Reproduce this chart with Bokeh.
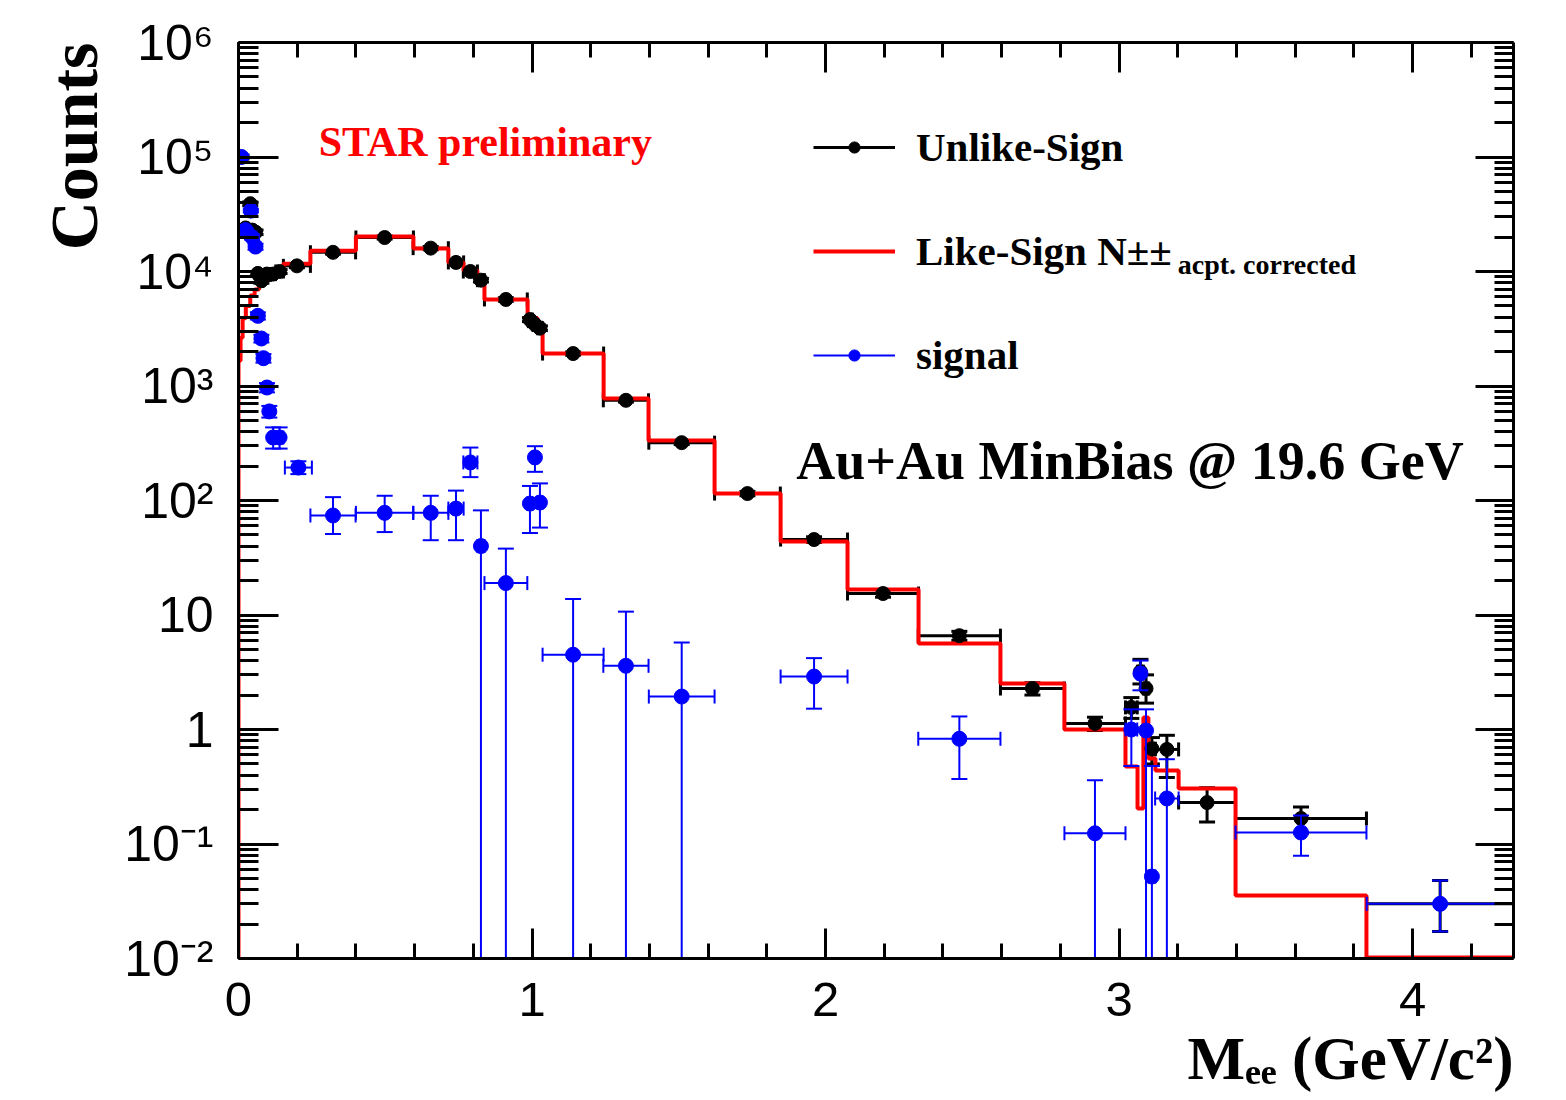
import numpy as np
from bokeh.plotting import figure
from bokeh.models import (Range1d, FixedTicker, LinearAxis, LogAxis, Label, Legend,
                          LegendItem, CustomJSTickFormatter, Title)
from bokeh.embed import file_html
from bokeh.resources import INLINE

# ---------------- data ----------------
# Like-sign (acceptance corrected) histogram: bin edges [GeV/c^2] and counts
ls_edges = [0.0, 0.007, 0.014, 0.025, 0.04, 0.055, 0.07, 0.085, 0.10, 0.12, 0.137, 0.153,
            0.245, 0.40, 0.596, 0.715, 0.767, 0.814, 0.838, 0.985, 1.019, 1.036, 1.244,
            1.397, 1.622, 1.847, 2.075, 2.317, 2.596, 2.814, 3.022, 3.063, 3.083, 3.100,
            3.124, 3.203, 3.397, 3.843, 4.344]
ls_counts = [1660, 2640, 3900, 5000, 6160, 6950, 7550, 8180, 8870, 9420, 1.0e4, 1.17e4,
             1.52e4, 2.02e4, 1.59e4, 1.2e4, 1.02e4, 8.7e3, 5.7e3, 3.9e3, 3.24e3, 1.92e3,
             778, 334, 115, 43.9, 16.7, 5.64, 2.52, 1.0, 0.475, 0.204, 1.27, 0.558, 0.438,
             0.305, 0.0355, 0.0102]

# Unlike-sign points
us_mass = [0.010, 0.024, 0.040, 0.047, 0.058, 0.066, 0.078, 0.085, 0.097, 0.105,
           0.118, 0.140, 0.199, 0.322, 0.498, 0.655, 0.741, 0.790, 0.826, 0.911,
           0.993, 1.010, 1.027, 1.140, 1.320, 1.510, 1.734, 1.961, 2.196, 2.456,
           2.705, 2.918, 3.042, 3.073, 3.092, 3.112, 3.163, 3.300, 3.620, 4.094]
us_halfwidth = [0.005, 0.004, 0.004, 0.004, 0.005, 0.004, 0.005, 0.004, 0.005, 0.004,
                0.008, 0.013, 0.046, 0.077, 0.098, 0.060, 0.026, 0.024, 0.012, 0.073,
                0.0085, 0.0085, 0.0085, 0.104, 0.077, 0.112, 0.112, 0.114, 0.121, 0.140,
                0.109, 0.104, 0.020, 0.010, 0.009, 0.012, 0.040, 0.097, 0.223, 0.250]
us_counts = [1.0e5, 2.4e4, 3.9e4, 2.3e4, 2.2e4, 9.6e3, 8.3e3, 9.0e3, 9.5e3, 9.4e3,
             9.5e3, 1.0e4, 1.12e4, 1.47e4, 1.98e4, 1.6e4, 1.2e4, 1.0e4, 8.4e3, 5.7e3,
             3.8e3, 3.45e3, 3.2e3, 1.92e3, 750, 320, 115, 45.6, 15.4, 6.6,
             2.28, 1.13, 1.56, 3.2, 2.28, 0.68, 0.67, 0.23, 0.167, 0.030]
us_err_low = [9.6e4, 2.3e4, 3.75e4, 2.2e4, 2.1e4, 9.2e3, 7.9e3, 8.6e3, 9.1e3, 9.0e3,
              9.1e3, 9.6e3, 1.08e4, 1.42e4, 1.92e4, 1.55e4, 1.16e4, 9.7e3, 8.1e3, 5.5e3,
              3.65e3, 3.3e3, 3.05e3, 1.86e3, 725, 308, 110, 43, 14.3, 6.0,
              2.0, 0.98, 1.25, 2.5, 1.7, 0.5, 0.38, 0.156, 0.125, 0.0172]
us_err_high = [1.04e5, 2.5e4, 4.05e4, 2.4e4, 2.3e4, 1.0e4, 8.7e3, 9.4e3, 9.9e3, 9.8e3,
               9.9e3, 1.04e4, 1.16e4, 1.52e4, 2.04e4, 1.65e4, 1.24e4, 1.03e4, 8.7e3, 5.9e3,
               3.95e3, 3.6e3, 3.35e3, 1.98e3, 775, 332, 120, 48.2, 16.5, 7.2,
               2.56, 1.28, 1.9, 4.1, 3.0, 0.85, 0.89, 0.31, 0.21, 0.048]

# Signal points (unlike - like); a low end of 0 means the bar runs off the axis
sig_mass = [0.010, 0.024, 0.042, 0.046, 0.058, 0.066, 0.078, 0.085, 0.097, 0.105,
            0.118, 0.140, 0.204, 0.322, 0.498, 0.655, 0.741, 0.790, 0.826, 0.911,
            0.993, 1.010, 1.027, 1.140, 1.320, 1.510, 1.961, 2.456, 2.918, 3.042,
            3.073, 3.092, 3.112, 3.163, 3.620, 4.094]
sig_halfwidth = [0.005, 0.004, 0.004, 0.004, 0.005, 0.004, 0.005, 0.004, 0.005, 0.004,
                 0.008, 0.013, 0.046, 0.077, 0.098, 0.060, 0.026, 0.024, 0.012, 0.073,
                 0.0085, 0.0085, 0.0085, 0.104, 0.077, 0.112, 0.114, 0.140, 0.104, 0.020,
                 0.010, 0.009, 0.012, 0.040, 0.223, 0.250]
sig_counts = [1.0e5, 2.3e4, 3.4e4, 2.0e4, 1.65e4, 4.1e3, 2.6e3, 1.75e3, 970, 600,
              355, 355, 194, 74, 78, 78, 85, 215, 40, 19,
              94, 238, 96, 4.5, 3.6, 1.94, 2.9, 0.83, 0.124, 1.0,
              3.08, 0.98, 0.052, 0.25, 0.126, 0.030]
sig_err_low = [9.7e4, 2.2e4, 3.3e4, 1.9e4, 1.55e4, 3.8e3, 2.4e3, 1.6e3, 880, 530,
               284, 284, 170, 51, 53, 45, 45, 160, 0, 0,
               52, 178, 58, 0, 0, 0, 1.52, 0.37, 0, 0.48,
               2.2, 0, 0, 0, 0.079, 0.0172]
sig_err_high = [1.03e5, 2.4e4, 3.5e4, 2.1e4, 1.75e4, 4.4e3, 2.8e3, 1.9e3, 1060, 670,
                435, 435, 220, 107, 110, 110, 122, 290, 82, 38,
                134, 298, 141, 13.8, 10.7, 5.75, 4.2, 1.3, 0.36, 1.5,
                4.0, 1.5, 0.48, 0.55, 0.177, 0.048]

x_tick_values = [0, 1, 2, 3, 4]
x_tick_labels = ["0", "1", "2", "3", "4"]
y_decades = [-2, -1, 0, 1, 2, 3, 4, 5, 6]
y_tick_labels = ["10\u207b\u00b2", "10\u207b\u00b9", "1", "10", "10\u00b2", "10\u00b3",
                 "10\u2074", "10\u2075", "10\u2076"]

X_MIN, X_MAX = 0.0, 4.344
Y_MIN, Y_MAX = 1e-2, 1e6

SERIF = "Liberation Serif"
SANS = "Liberation Sans"
BLUE = "#0000ff"
RED = "#ff0000"

# ---------------- figure ----------------
p = figure(frame_width=1275, frame_height=916, output_backend="svg", toolbar_location=None,
           x_range=Range1d(X_MIN, X_MAX), y_range=Range1d(Y_MIN, Y_MAX),
           y_axis_type="log", min_border_left=238, min_border_right=53,
           min_border_top=42, min_border_bottom=142,
           background_fill_color="white", border_fill_color="white",
           outline_line_color=None)
p.grid.visible = False

x_minor = [round(0.2 * i, 3) for i in range(0, 22)]
y_minor = [m * 10.0 ** e for e in y_decades[:-1] for m in range(2, 10)]
x_ticker = FixedTicker(ticks=x_tick_values, minor_ticks=x_minor)
y_ticker = FixedTicker(ticks=[10.0 ** e for e in y_decades], minor_ticks=y_minor)
blank = CustomJSTickFormatter(code="return ''")
y_format = CustomJSTickFormatter(
    args=dict(labels=y_tick_labels, decades=y_decades),
    code="const e = Math.round(Math.log10(tick)); const i = decades.indexOf(e);"
         " return i < 0 ? '' : labels[i];")
x_format = CustomJSTickFormatter(
    args=dict(labels=x_tick_labels, vals=x_tick_values),
    code="const i = vals.indexOf(Math.round(tick)); return i < 0 ? '' : labels[i];")


def style_axis(ax, major_in, minor_in):
    ax.axis_line_width = 3
    ax.axis_line_color = "black"
    ax.major_tick_in = major_in
    ax.major_tick_out = 0
    ax.minor_tick_in = minor_in
    ax.minor_tick_out = 0
    ax.major_tick_line_width = 3
    ax.minor_tick_line_width = 3
    ax.major_tick_line_color = "black"
    ax.minor_tick_line_color = "black"


xb = p.xaxis[0]
xb.ticker = x_ticker
xb.formatter = x_format
xb.major_label_text_font = SANS
xb.major_label_text_font_size = "49px"
xb.major_label_text_color = "black"
xb.major_label_standoff = 24
style_axis(xb, 30, 15)

yl = p.yaxis[0]
yl.ticker = y_ticker
yl.formatter = y_format
yl.major_label_text_font = SANS
yl.major_label_text_font_size = "50px"
yl.major_label_text_color = "black"
yl.major_label_standoff = 25
style_axis(yl, 40, 20)

xt = LinearAxis(ticker=x_ticker, formatter=blank)
style_axis(xt, 30, 15)
p.add_layout(xt, "above")

yr = LogAxis(ticker=y_ticker, formatter=blank)
style_axis(yr, 38, 19)
p.add_layout(yr, "right")

# axis titles (ROOT style: at the far end of each axis)
p.add_layout(Title(text="M\u2091\u2091 (GeV/c\u00b2)", align="right", standoff=8,
                   text_font=SERIF, text_font_style="bold", text_font_size="61px",
                   text_color="black"), "below")
p.add_layout(Title(text="Counts", align="right", standoff=20,
                   text_font=SERIF, text_font_style="bold", text_font_size="68px",
                   text_color="black"), "left")

# ---------------- like-sign histogram (step) ----------------
step_x = [ls_edges[0]]
step_y = [Y_MIN * 0.5]
for i, v in enumerate(ls_counts):
    step_x += [ls_edges[i], ls_edges[i + 1]]
    step_y += [v, v]


def error_points(mass, hw, counts, lo, hi, color, lw, cap):
    m = np.array(mass, float)
    w = np.array(hw, float)
    c = np.array(counts, float)
    lo_c = np.maximum(np.array(lo, float), Y_MIN)
    h = np.array(hi, float)
    xerr = p.segment(x0=m - w, y0=c, x1=m + w, y1=c, line_color=color, line_width=lw)
    p.segment(x0=m, y0=lo_c, x1=m, y1=h, line_color=color, line_width=lw)
    p.scatter(np.concatenate([m, m]), np.concatenate([lo_c, h]), marker="dash",
              size=cap, line_color=color, line_width=lw)
    p.scatter(np.concatenate([m - w, m + w]), np.concatenate([c, c]), marker="dash",
              angle=np.pi / 2, size=cap - 2, line_color=color, line_width=lw)
    return xerr, m, c


us_xerr, usm, usc = error_points(us_mass, us_halfwidth, us_counts, us_err_low,
                                 us_err_high, "black", 3, 16)
ls_r = p.line(step_x, step_y, line_color=RED, line_width=4)
us_pts = p.scatter(usm, usc, marker="circle", size=14, fill_color="black",
                   line_color="black")
sig_xerr, sgm, sgc = error_points(sig_mass, sig_halfwidth, sig_counts, sig_err_low,
                                  sig_err_high, BLUE, 2, 16)
sig_pts = p.scatter(sgm, sgc, marker="circle", size=15, fill_color=BLUE,
                    line_color=BLUE)

# ---------------- legend ----------------
legend = Legend(items=[
    LegendItem(label="Unlike-Sign", renderers=[us_xerr, us_pts]),
    LegendItem(label="Like-Sign N\u00b1\u00b1", renderers=[ls_r]),
    LegendItem(label="signal", renderers=[sig_xerr, sig_pts]),
], location=(575, 579))
legend.glyph_width = 82
legend.glyph_height = 28
legend.label_height = 47
legend.label_standoff = 21
legend.spacing = 56
legend.padding = 0
legend.margin = 0
legend.border_line_color = None
legend.background_fill_alpha = 0
legend.label_text_font = SERIF
legend.label_text_font_style = "bold"
legend.label_text_font_size = "41px"
legend.label_text_color = "black"
p.add_layout(legend)


def lab(x, y, text, size, color="black"):
    p.add_layout(Label(x=x, y=y, text=text, text_font=SERIF, text_font_size=size,
                       text_font_style="bold", text_color=color, text_align="left",
                       text_baseline="alphabetic"))


lab(3.200, 1.15e4, "acpt. corrected", "28px")
lab(0.273, 1.35e5, "STAR preliminary", "42px", color=RED)
lab(1.900, 223.0, "Au+Au MinBias @ 19.6 GeV", "54px")

open("out.html", "w").write(file_html(p, INLINE))
